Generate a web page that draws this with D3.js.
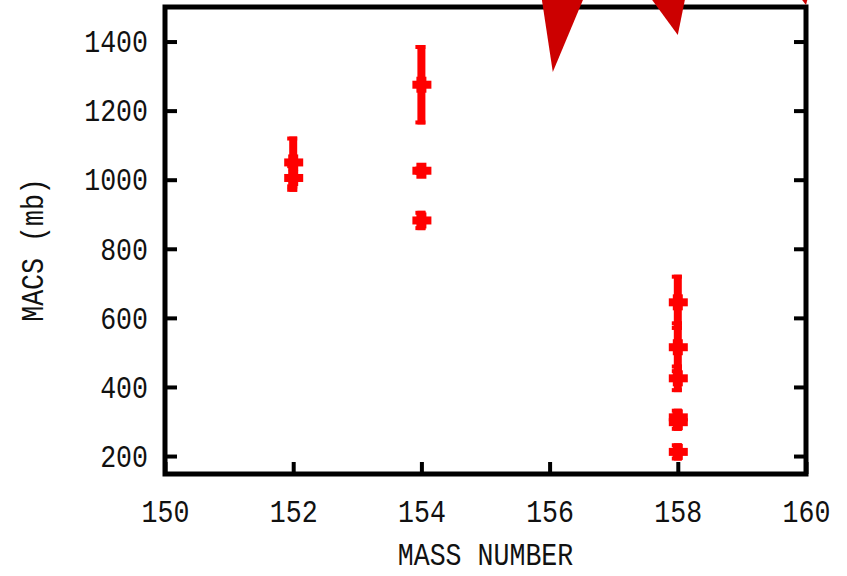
<!DOCTYPE html>
<html>
<head>
<meta charset="utf-8">
<script src="https://cdn.jsdelivr.net/npm/d3@7"></script>
<style>
  html, body { margin: 0; padding: 0; background: #fff; }
  svg { display: block; }
  .lbl { font-family: "Liberation Mono", "DejaVu Sans Mono", monospace; font-size: 26.6px; fill: #111; }
</style>
</head>
<body>
<svg id="chart" width="847" height="576"></svg>
<script>
// Measured cross sections by isotope mass
const massNumber = [152, 152, 154, 154, 154, 158, 158, 158, 158, 158, 158];
const macsValue  = [1050, 1005, 1275, 1026, 882, 645, 515, 425, 312, 298, 212];
const macsError  = [75, 40, 115, 12, 28, 80, 75, 40, 25, 25, 25];

// Off-scale pointers (apex and top corners, in data units)
const pointerApexMass  = [156.05, 158.0, 160.0];
const pointerApexMacs  = [1312, 1419, 1506];
const pointerLeftMass  = [155.88, 157.6, 159.94];
const pointerRightMass = [156.52, 158.11, 160.02];
const pointerTopMacs   = [1520, 1520, 1520];

const xTicks = [150, 152, 154, 156, 158, 160];
const yTicks = [200, 400, 600, 800, 1000, 1200, 1400];
const xTitle = "MASS NUMBER";
const yTitle = "MACS (mb)";

const svg = d3.select("#chart");
const plotL = 165, plotR = 806, plotT = 7, plotB = 474;
const stretch = 1.2; // tall, narrow terminal-style lettering

const x = d3.scaleLinear().domain([150, 160]).range([plotL, plotR]);
const y = d3.scaleLinear().domain([148, 1500]).range([plotB, plotT]);

// Axes with inward ticks
const gx = svg.append("g").attr("transform", `translate(0,${plotB})`)
  .call(d3.axisBottom(x).tickValues(xTicks).tickSize(-12).tickPadding(25).tickFormat(d3.format("d")));
const gy = svg.append("g").attr("transform", `translate(${plotL},0)`)
  .call(d3.axisLeft(y).tickValues(yTicks).tickSize(-12).tickPadding(17).tickFormat(d3.format("d")));
const gr = svg.append("g").attr("transform", `translate(${plotR},0)`)
  .call(d3.axisRight(y).tickValues(yTicks).tickSize(-12).tickFormat(""));

[gx, gy, gr].forEach(g => {
  g.select(".domain").remove();
  g.selectAll(".tick line").attr("stroke", "#000").attr("stroke-width", 4);
  g.selectAll(".tick text")
    .attr("class", "lbl").attr("fill", null)
    .each(function () {
      const t = d3.select(this);
      const yy = +t.attr("y") || 0;
      t.attr("y", yy / stretch).attr("transform", `scale(1,${stretch})`);
    });
});

// Frame
svg.append("rect")
  .attr("x", plotL).attr("y", plotT)
  .attr("width", plotR - plotL).attr("height", plotB - plotT)
  .attr("fill", "none").attr("stroke", "#000").attr("stroke-width", 5);

// Titles
svg.append("text").attr("class", "lbl")
  .attr("transform", `translate(${(plotL + plotR) / 2},565) scale(1,${stretch})`)
  .attr("text-anchor", "middle").text(xTitle);
svg.append("text").attr("class", "lbl")
  .attr("transform", `translate(43,250) rotate(-90) scale(1,${stretch})`)
  .attr("text-anchor", "middle").text(yTitle);

// Data: error bars and thick plus markers
const red = "#ff0000";
const pts = svg.append("g").attr("fill", red);
massNumber.forEach((m, i) => {
  const cx = x(m), cy = y(macsValue[i]);
  const yHi = y(macsValue[i] + macsError[i]);
  const yLo = y(macsValue[i] - macsError[i]);
  pts.append("rect").attr("x", cx - 4).attr("y", yHi).attr("width", 8).attr("height", yLo - yHi);
  pts.append("rect").attr("x", cx - 6).attr("y", yHi).attr("width", 10).attr("height", 4);
  pts.append("rect").attr("x", cx - 6).attr("y", yLo - 4).attr("width", 10).attr("height", 4);
  pts.append("rect").attr("x", cx - 9).attr("y", cy - 4).attr("width", 19).attr("height", 8);
  pts.append("rect").attr("x", cx - 5).attr("y", cy - 8).attr("width", 10).attr("height", 16);
});

// Off-scale pointers
const ptr = svg.append("g").attr("fill", "#cc0000");
pointerApexMass.forEach((m, i) => {
  const corners = [
    [x(pointerLeftMass[i]), y(pointerTopMacs[i])],
    [x(pointerRightMass[i]), y(pointerTopMacs[i])],
    [x(m), y(pointerApexMacs[i])]
  ];
  ptr.append("polygon").attr("points", corners.map(p => p.join(",")).join(" "));
});
</script>
</body>
</html>
